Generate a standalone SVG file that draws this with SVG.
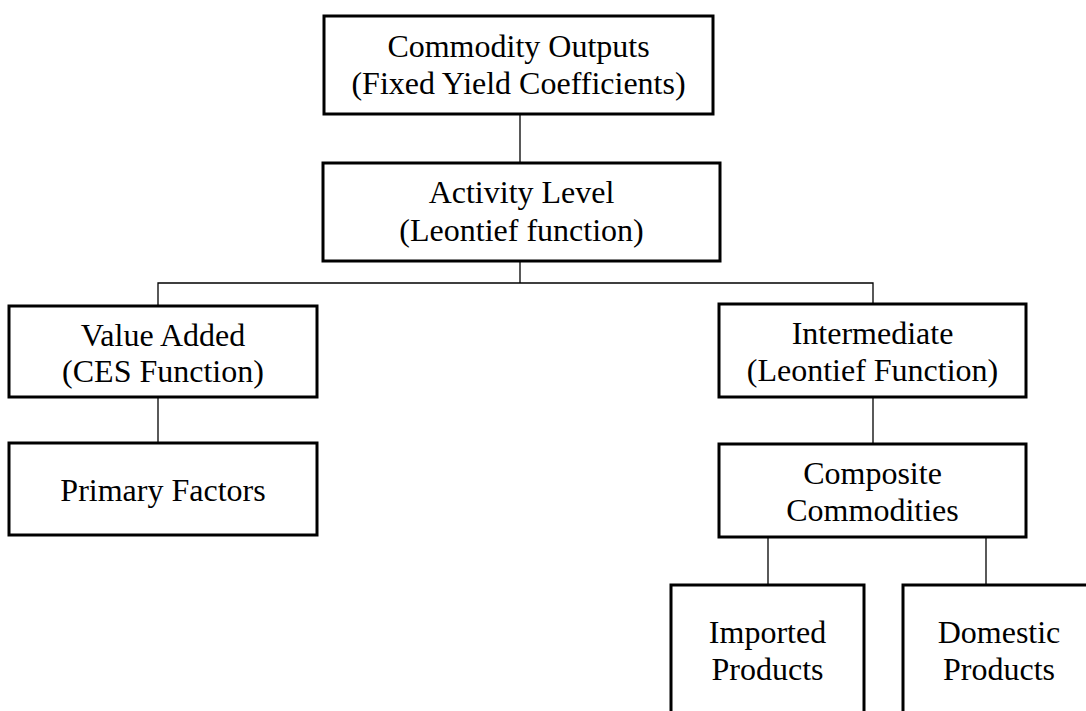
<svg xmlns="http://www.w3.org/2000/svg" width="1086" height="711" viewBox="0 0 1086 711">
<style>
.box{fill:#fff;stroke:#000;stroke-width:3}
.lbl{font-family:"Liberation Serif","Times New Roman",serif;font-size:32px;fill:#000;text-anchor:middle}
.con{stroke:#000;stroke-width:1.3;fill:none}
</style>
<rect width="1086" height="711" fill="#fff"/>
<g id="connectors">
<line class="con" x1="520" y1="114" x2="520" y2="163"/>
<line class="con" x1="520" y1="261" x2="520" y2="283"/>
<polyline class="con" points="158,306 158,283 873,283 873,304"/>
<line class="con" x1="158" y1="397" x2="158" y2="443"/>
<line class="con" x1="873" y1="397" x2="873" y2="444"/>
<line class="con" x1="768" y1="537" x2="768" y2="585"/>
<line class="con" x1="986" y1="537" x2="986" y2="585"/>
</g>
<g id="commodity-outputs">
<rect class="box" x="324" y="16" width="389" height="98"/>
<text class="lbl" x="518.5" y="57">Commodity Outputs</text>
<text class="lbl" x="518.5" y="94">(Fixed Yield Coefficients)</text>
</g>
<g id="activity-level">
<rect class="box" x="323" y="163" width="397" height="98"/>
<text class="lbl" x="521.5" y="203">Activity Level</text>
<text class="lbl" x="521.5" y="241">(Leontief function)</text>
</g>
<g id="value-added">
<rect class="box" x="9" y="306" width="308" height="91"/>
<text class="lbl" x="163" y="346">Value Added</text>
<text class="lbl" x="163" y="382">(CES Function)</text>
</g>
<g id="primary-factors">
<rect class="box" x="9" y="443" width="308" height="92"/>
<text class="lbl" x="163" y="501">Primary Factors</text>
</g>
<g id="intermediate">
<rect class="box" x="719" y="304" width="307" height="93"/>
<text class="lbl" x="872.5" y="344">Intermediate</text>
<text class="lbl" x="872.5" y="381">(Leontief Function)</text>
</g>
<g id="composite-commodities">
<rect class="box" x="719" y="444" width="307" height="93"/>
<text class="lbl" x="872.5" y="484">Composite</text>
<text class="lbl" x="872.5" y="521">Commodities</text>
</g>
<g id="imported-products">
<rect class="box" x="671" y="585" width="193" height="150"/>
<text class="lbl" x="767.5" y="643">Imported</text>
<text class="lbl" x="767.5" y="680">Products</text>
</g>
<g id="domestic-products">
<rect class="box" x="903" y="585" width="192" height="150"/>
<text class="lbl" x="999" y="643">Domestic</text>
<text class="lbl" x="999" y="680">Products</text>
</g>
</svg>
